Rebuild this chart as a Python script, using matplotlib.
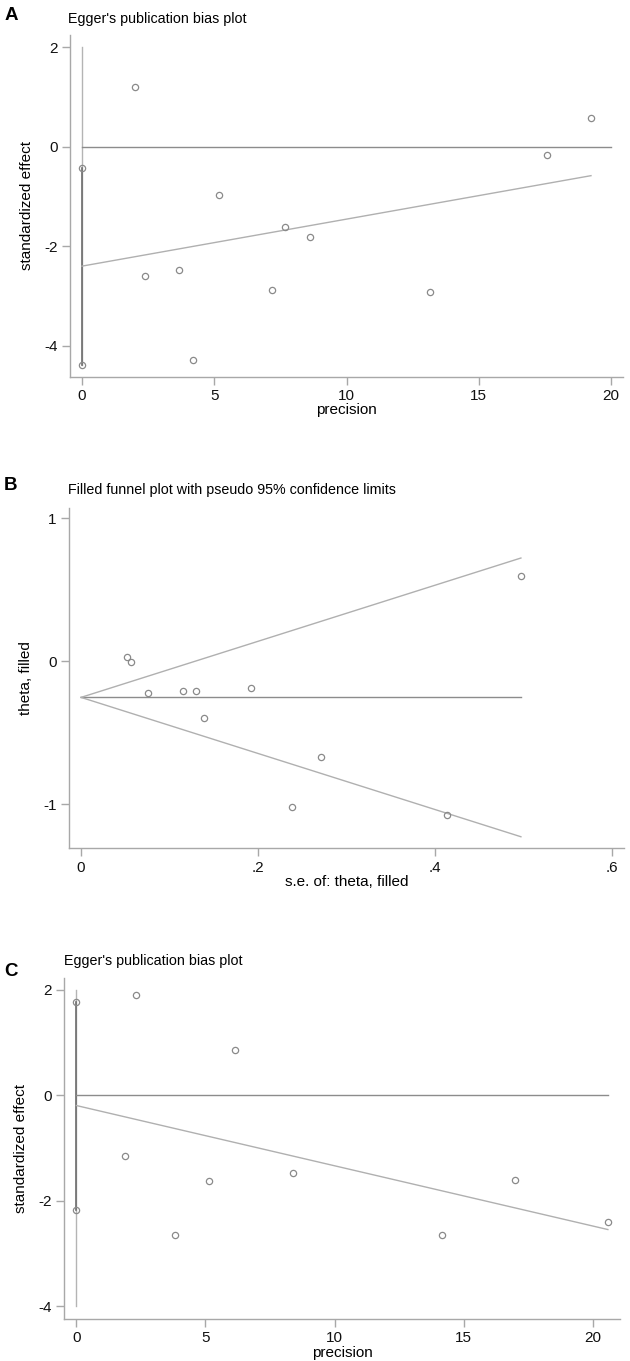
import numpy as np
import matplotlib
matplotlib.use("Agg")
import matplotlib.pyplot as plt

plt.rcParams['font.family'] = ['Liberation Sans', 'DejaVu Sans']
plt.rcParams['axes.unicode_minus'] = False

# panel A: Egger's plot
a_prec = [0, 0, 2.01, 2.40, 3.67, 4.19, 5.20, 7.18, 7.66, 8.62, 13.14, 17.57, 19.24]
a_eff = [-0.42, -4.38, 1.20, -2.60, -2.47, -4.28, -0.96, -2.87, -1.61, -1.81, -2.92, -0.17, 0.58]
a_icpt = -2.40
a_slope = 0.0946
a_ci = [2.0, -4.38]

# panel B: filled funnel
b_se = [0.0517, 0.0567, 0.0757, 0.1156, 0.1302, 0.1388, 0.1918, 0.2381, 0.2712, 0.4136, 0.4971]
b_theta = [0.030, -0.009, -0.222, -0.210, -0.210, -0.399, -0.187, -1.020, -0.672, -1.076, 0.593]
b_pooled = -0.254

# panel C: Egger's plot
c_prec = [0, 0, 1.87, 2.30, 3.81, 5.15, 6.14, 8.38, 14.15, 17.01, 20.59]
c_eff = [1.77, -2.17, -1.15, 1.89, -2.65, -1.63, 0.865, -1.47, -2.65, -1.60, -2.41]
c_icpt = -0.196
c_slope = -0.1141
c_ci = [2.0, -4.0]

W, H = 630, 1361
fig = plt.figure(figsize=(W / 100, H / 100), dpi=100)

spine_c = '#a8a8a8'
pt_c = '#8a8a8a'


def make_ax(l, r, t, b):
    ax = fig.add_axes([l / W, 1 - b / H, (r - l) / W, (b - t) / H])
    for s in ['top', 'right']:
        ax.spines[s].set_visible(False)
    for s in ['left', 'bottom']:
        ax.spines[s].set_color(spine_c)
        ax.spines[s].set_linewidth(1.0)
    ax.tick_params(direction='out', length=6, width=1.0, color=spine_c,
                   labelsize=11, pad=3, labelcolor='#111111')
    return ax


def pts(ax, x, y):
    ax.plot(x, y, 'o', ms=4.5, mfc='none', mec=pt_c, mew=0.9, zorder=5)


def egger(ax, prec, eff, icpt, slope, ci, xlim, ylim, yticks):
    prec = np.array(prec)
    eff = np.array(eff)
    ax.plot([0, 0], ci, color='#b4b4b4', lw=1.0)
    z = eff[prec == 0]
    ax.plot([0, 0], [z.max(), z.min()], color='#6e6e6e', lw=1.2)
    xm = prec.max()
    ax.plot([0, max(xm, 20)], [0, 0], color='#8c8c8c', lw=1.0)
    ax.plot([0, xm], [icpt, icpt + slope * xm], color='#b0b0b0', lw=1.0)
    pts(ax, prec, eff)
    ax.set_xlim(*xlim)
    ax.set_ylim(*ylim)
    ax.set_xticks([0, 5, 10, 15, 20])
    ax.set_yticks(yticks)
    ax.set_xlabel('precision', fontsize=11, labelpad=0)
    ax.set_ylabel('standardized effect', fontsize=11, labelpad=7)


# A
axA = make_ax(70, 623, 35, 377)
egger(axA, a_prec, a_eff, a_icpt, a_slope, a_ci, (-0.45, 20.45), (-4.63, 2.25), [-4, -2, 0, 2])
fig.text(68 / W, 1 - 19 / H, "Egger's publication bias plot", fontsize=10.3, va='center', ha='left')
fig.text(5 / W, 1 - 16 / H, 'A', fontsize=13.5, fontweight='bold', va='center', ha='left')

# B
axB = make_ax(69, 624, 508, 848)
se = np.array(b_se)
smax = se.max()
axB.plot([0, smax], [b_pooled, b_pooled], color='#8c8c8c', lw=1.0)
axB.plot([0, smax], [b_pooled, b_pooled + 1.96 * smax], color='#b0b0b0', lw=1.0)
axB.plot([0, smax], [b_pooled, b_pooled - 1.96 * smax], color='#b0b0b0', lw=1.0)
pts(axB, b_se, b_theta)
axB.set_xlim(-0.0136, 0.6136)
axB.set_ylim(-1.307, 1.07)
axB.set_xticks([0, 0.2, 0.4, 0.6])
axB.set_xticklabels(['0', '.2', '.4', '.6'])
axB.set_yticks([-1, 0, 1])
axB.set_xlabel('s.e. of: theta, filled', fontsize=11, labelpad=0)
axB.set_ylabel('theta, filled', fontsize=11, labelpad=7)
fig.text(68 / W, 1 - 490 / H, 'Filled funnel plot with pseudo 95% confidence limits',
         fontsize=10.3, va='center', ha='left')
fig.text(4 / W, 1 - 485 / H, 'B', fontsize=13.5, fontweight='bold', va='center', ha='left')

# C
axC = make_ax(64, 620, 978, 1319)
egger(axC, c_prec, c_eff, c_icpt, c_slope, c_ci, (-0.48, 21.06), (-4.24, 2.22), [-4, -2, 0, 2])
fig.text(64 / W, 1 - 961 / H, "Egger's publication bias plot", fontsize=10.3, va='center', ha='left')
fig.text(4 / W, 1 - 971 / H, 'C', fontsize=13.5, fontweight='bold', va='center', ha='left')

fig.savefig('out.png', dpi=100, facecolor='white')
